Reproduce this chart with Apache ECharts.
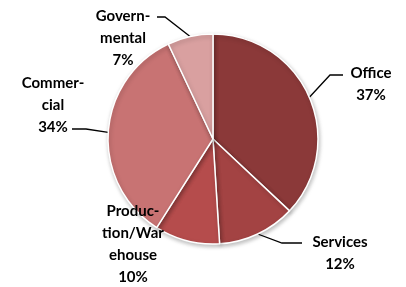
<!DOCTYPE html>
<html>
<head>
<meta charset="utf-8">
<script src="https://cdn.jsdelivr.net/npm/echarts@6/dist/echarts.min.js"></script>
<style>
  html, body { margin: 0; padding: 0; background: #fff; }
  #pieChart { width: 406px; height: 287px; }
</style>
</head>
<body>
<div id="pieChart"></div>
<script>
// building type shares
const categories = ["Office", "Services", "Produc-\ntion/War\nehouse", "Commer-\ncial", "Govern-\nmental"];
const shares = [37, 12, 10, 34, 7];
const sliceColors = ["#8b3939", "#a34343", "#b54c4c", "#c87373", "#d9a0a0"];

// where each label sits and how its leader line bends (Excel style)
const labelSpots = [
  { x: 371, y: 84, line: [[330, 75], [343, 75]] },
  { x: 340, y: 253, line: [[282, 243], [302, 243]] },
  { x: 133, y: 244, line: null },
  { x: 53, y: 105, line: [[86, 129], [72, 129]] },
  { x: 123, y: 38, line: [[165, 17], [157, 17]] }
];

const chart = echarts.init(document.getElementById("pieChart"));

const options = {
  animation: false,
  series: [
    {
      type: "pie",
      center: [213, 139],
      radius: [0, 105],
      startAngle: 90,
      clockwise: true,
      itemStyle: {
        borderColor: "#fff",
        borderWidth: 1.5,
        color: function (params) {
          return sliceColors[params.dataIndex];
        },
        shadowBlur: 4,
        shadowOffsetX: 1,
        shadowOffsetY: 2,
        shadowColor: "rgba(0,0,0,0.25)"
      },
      label: {
        show: true,
        position: "outside",
        formatter: "{b}\n{c}%",
        fontFamily: "Lato",
        fontWeight: "bold",
        fontSize: 15,
        lineHeight: 22,
        color: "#000",
        align: "center",
        overflow: "none"
      },
      labelLine: {
        show: true,
        lineStyle: { color: "#000", width: 1.3 }
      },
      labelLayout: function (params) {
        const spot = labelSpots[params.dataIndex];
        const res = {
          x: spot.x,
          y: spot.y,
          align: "center",
          verticalAlign: "middle"
        };
        if (spot.line && params.labelLinePoints) {
          res.labelLinePoints = [params.labelLinePoints[0], spot.line[0], spot.line[1]];
        } else {
          res.labelLinePoints = [[0, 0], [0, 0], [0, 0]];
        }
        return res;
      },
      data: categories.map(function (name, i) {
        return { name: name, value: shares[i] };
      })
    }
  ]
};

chart.setOption(options);
</script>
</body>
</html>
